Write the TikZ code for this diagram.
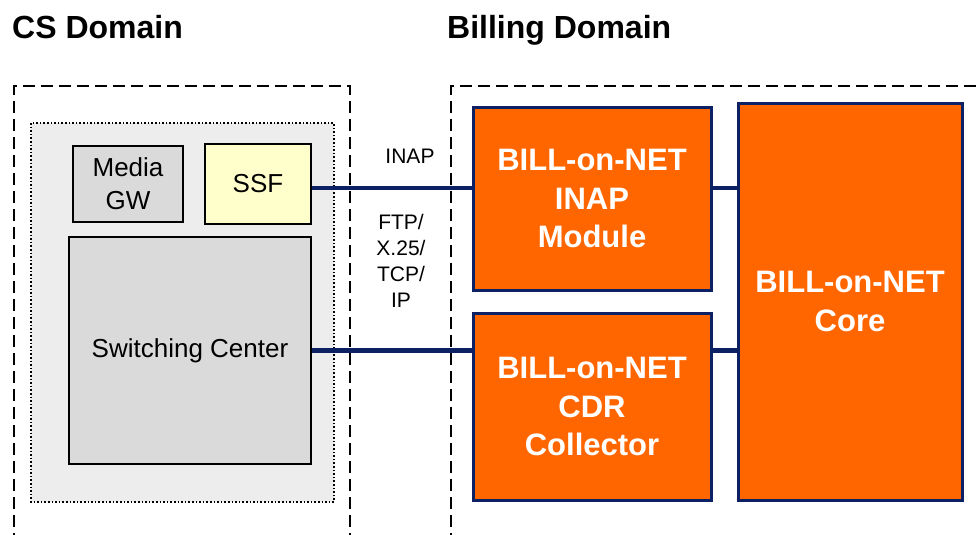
\documentclass[tikz,border=0pt]{standalone}
\usepackage{fontspec}
\setmainfont{Liberation Sans}
\definecolor{billorange}{HTML}{FF6600}
\definecolor{linkblue}{HTML}{0C2163}
\definecolor{ssfyellow}{HTML}{FFFFCC}
\definecolor{boxgray}{HTML}{DADADA}
\definecolor{areagray}{HTML}{EDEDED}

\begin{document}
\begin{tikzpicture}[x=1pt,y=-1pt,
    domainline/.style={line width=1.6pt, dash pattern=on 12pt off 6pt},
    csbox/.style={draw, line width=1.6pt, fill=boxgray, align=center, inner sep=0pt,
        font=\fontsize{26}{33}\selectfont},
    billbox/.style={draw=linkblue, line width=3pt, fill=billorange, text=white, align=center,
        inner sep=0pt, font=\bfseries\fontsize{31}{38.8}\selectfont},
    link/.style={draw=linkblue, line width=4.5pt},
    title/.style={anchor=base west, inner sep=0pt, font=\bfseries\fontsize{32}{36}\selectfont}]
    \useasboundingbox (0,0) rectangle (980,535);

    % domains
    \node[title] (cstitle) at (12,39) {CS Domain};
    \node[title] (billtitle) at (447,39) {Billing Domain};
    \draw[domainline] (14,545) -- (14,86) -- (350,86) -- (350,545);
    \draw[domainline] (451,545) -- (451,86) -- (990,86);

    % CS side
    \draw[fill=areagray, line width=1.6pt, dotted] (31,123) rectangle (334,502);
    \node[csbox, minimum width=110pt, minimum height=76pt] (mediagw) at (128,184) {Media\\GW};
    \node[csbox, fill=ssfyellow, minimum width=106pt, minimum height=80pt] (ssf) at (258,184) {SSF};
    \node[csbox, minimum width=242pt, minimum height=227pt] (switching) at (190,350.5) {Switching Center};

    % billing side
    \node[billbox, minimum width=238pt, minimum height=183pt] (inap) at (592,198.5) {BILL-on-NET\\INAP\\Module};
    \node[billbox, minimum width=238pt, minimum height=187pt] (cdr) at (592,406.5) {BILL-on-NET\\CDR\\Collector};
    \node[billbox, minimum width=224pt, minimum height=397pt] (core) at (850,301.5) {BILL-on-NET\\Core};

    % links
    \draw[link] (ssf.east |- 0,188) -- (inap.west |- 0,188);
    \draw[link] (inap.east |- 0,188) -- (core.west |- 0,188);
    \draw[link] (switching.east) -- (cdr.west |- switching.east);
    \draw[link] (cdr.east |- switching.east) -- (core.west |- switching.east);
    \node[font=\fontsize{21}{26}\selectfont] (inaplabel) at (410,156) {INAP};
    \node[font=\fontsize{21}{26}\selectfont, align=center] (ftplabel) at (401,261) {FTP/\\X.25/\\TCP/\\IP};
\end{tikzpicture}
\end{document}
